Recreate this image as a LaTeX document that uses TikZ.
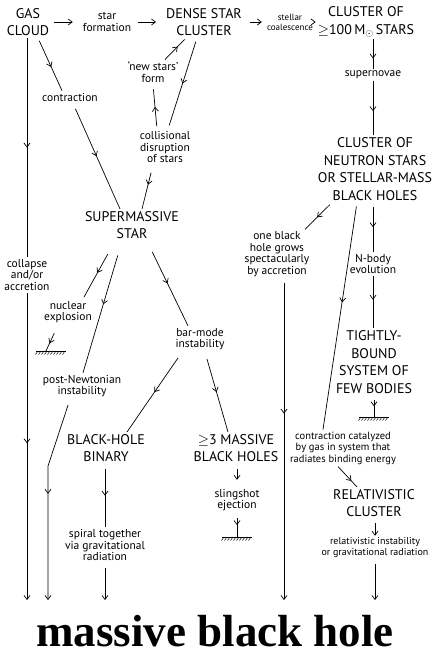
\documentclass[tikz,border=0pt]{standalone}
\usepackage{fontspec}
\setmainfont{PT Sans}
\newfontfamily\titlefont{Liberation Serif}
\usetikzlibrary{arrows.meta, decorations.markings, calc}

\tikzset{
  stage/.style={align=center, inner sep=2pt, font=\fontsize{14}{17.5}\selectfont},
  proc/.style={align=center, inner sep=2pt, font=\fontsize{11.5}{11.5}\selectfont},
  smallproc/.style={align=center, inner sep=1pt, font=\fontsize{9}{10}\selectfont},
  flow/.style={line width=0.7pt},
  tip/.style={-{Straight Barb[length=4pt,width=6pt]}},
  midarrow/.style={postaction={decorate}, decoration={markings,
      mark=at position #1 with {\arrow{Straight Barb[length=4pt,width=6pt]}}}},
  midarrow/.default=0.5,
  groundmark/.pic={
    \draw[line width=0.6pt] (-15,0) -- (15,0);
    \foreach \k in {-13,-10,...,14} \draw[line width=0.5pt] (\k,0) -- ++(-2.5,3.5);
  }
}

\begin{document}
\begin{tikzpicture}[x=1pt, y=-1pt]
  \useasboundingbox (0,0) rectangle (433,662);
  % Stages
  \node[stage] (gas) at (28,22) {GAS\\CLOUD};
  \node[stage] (dense) at (204,22) {DENSE STAR\\CLUSTER};
  \node[stage] (hundred) at (366,22) {CLUSTER OF\\$\geq$100\,M$_{\odot}$\,STARS};
  \node[stage] (nscluster) at (375,169) {CLUSTER OF\\NEUTRON STARS\\OR STELLAR-MASS\\BLACK HOLES};
  \node[stage] (sms) at (132,225) {SUPERMASSIVE\\STAR};
  \node[stage] (tight) at (374,362) {TIGHTLY-\\BOUND\\SYSTEM OF\\FEW BODIES};
  \node[stage] (binary) at (106,448) {BLACK-HOLE\\BINARY};
  \node[stage] (three) at (236,448) {$\geq$3 MASSIVE\\BLACK HOLES};
  \node[stage] (relcl) at (374,503) {RELATIVISTIC\\CLUSTER};
  % Processes
  \node[proc] (form) at (107,22) {star\\formation};
  \node[smallproc] (coal) at (290,22) {stellar\\coalescence};
  \node[proc] (supern) at (373,75) {supernovae};
  \node[proc] (contr) at (70,97) {contraction};
  \node[proc] (newst) at (153,72) {‘new stars’\\form};
  \node[proc] (coll) at (165,147) {collisional\\disruption\\of stars};
  \node[proc] (collapse) at (27,275) {collapse\\and/or\\accretion};
  \node[proc] (nucl) at (68,312) {nuclear\\explosion};
  \node[proc] (postn) at (82,386) {post-Newtonian\\instability};
  \node[proc] (bar) at (200,339) {bar-mode\\instability};
  \node[proc] (grow) at (277,254) {one black\\hole grows\\spectacularly\\by accretion};
  \node[proc] (nbody) at (373,264) {N-body\\evolution};
  \node[proc, font=\fontsize{10.5}{11.5}\selectfont] (catal) at (343,448) {contraction catalyzed\\by gas in system that\\radiates binding energy};
  \node[proc] (spiral) at (105,545) {spiral together\\via gravitational\\radiation};
  \node[proc] (sling) at (237,500) {slingshot\\ejection};
  \node[proc, font=\fontsize{10}{11}\selectfont] (relinst) at (375,548) {relativistic instability\\or gravitational radiation};
  % Outcome
  \node[inner sep=0pt, font=\titlefont\bfseries\fontsize{45}{45}\selectfont] (title) at (215,631) {massive black hole};
  \coordinate (base) at (0,600);
  \coordinate (kink) at (48,466);
  \coordinate (growfoot) at ([xshift=7pt]grow.south);
  \coordinate (g1) at (51,351);
  \coordinate (g2) at (237,537);
  \coordinate (g3) at (374,417);
  \foreach \g in {g1,g2,g3}
    \pic at (\g) {groundmark};
  % Top row
  \draw[flow, tip, shorten <=3pt, shorten >=8pt] (gas) -- (form);
  \draw[flow, tip, shorten <=5pt, shorten >=8pt] (form) -- (dense);
  \draw[flow, tip, shorten <=6pt, shorten >=4pt] (dense) -- (coal);
  \draw[flow, tip] (coal) -- (hundred);
  \draw[flow, midarrow=0.65] (supern.north |- hundred.south) -- (supern.north);
  \draw[flow, midarrow=0.55] (supern.south) -- (supern.south |- nscluster.north);
  % Gas cloud branch
  \draw[flow, midarrow=0.55, shorten <=3pt] ([xshift=10pt]gas.south) -- ([xshift=-8pt]contr.north);
  \draw[flow, midarrow=0.5, shorten <=6pt] ([xshift=3pt]contr.south) -- ([xshift=-12pt]sms.north);
  \draw[flow, midarrow=0.5] (collapse.north |- gas.south) -- (collapse.north);
  \draw[flow, tip, midarrow=0.49] (collapse.south) -- (collapse.south |- base);
  % Dense cluster branch
  \draw[flow, midarrow=0.5, shorten <=4pt, shorten >=4pt] ([xshift=-7pt]dense.south) -- ([xshift=3pt]coll.north);
  \draw[flow, midarrow=0.5, shorten <=3pt, shorten >=5pt] ([xshift=-8pt]coll.north) -- (newst.south);
  \draw[flow, midarrow=0.6, shorten >=2pt] ([xshift=12pt]newst.north) -- ([xshift=-18pt]dense.south);
  \draw[flow, midarrow=0.45, shorten <=8pt] ([xshift=-12pt]coll.south) -- ([xshift=10pt]sms.north);
  % Supermassive star branch
  \draw[flow, midarrow=0.55, shorten <=15pt, shorten >=2pt] ([xshift=-17pt]sms.south) -- ([xshift=15pt]nucl.north);
  \draw[flow, midarrow=0.7, shorten <=9pt] ([xshift=-10pt]nucl.south) -- ([xshift=-5pt]g1);
  \draw[flow, midarrow=0.48, shorten <=15pt] ([xshift=-10pt]sms.south) -- ([xshift=1pt]postn.north);
  \draw[flow, tip, midarrow=0.48, shorten <=6pt] ([xshift=-12pt]postn.south) -- (kink) -- (kink |- base);
  \draw[flow, midarrow=0.5, shorten <=12pt] ([xshift=15pt]sms.south) -- ([xshift=-12pt]bar.north);
  \draw[flow, midarrow=0.5, shorten <=7pt] ([xshift=-18pt]bar.south) -- ([xshift=21pt]binary.north);
  \draw[flow, midarrow=0.5, shorten <=7pt] ([xshift=5pt]bar.south) -- ([xshift=-8pt]three.north);
  \draw[flow, midarrow=0.5, shorten <=5pt] (spiral.north |- binary.south) -- (spiral.north);
  \draw[flow, tip, shorten <=5pt] (spiral.south) -- (spiral.south |- base);
  \draw[flow, tip, shorten <=5pt, shorten >=7pt] (sling.north |- three.south) -- (sling.north);
  \draw[flow, midarrow=0.5, shorten <=5pt] (sling.south) -- (g2);
  % Neutron star cluster branch
  \draw[flow, midarrow=0.55, shorten <=3pt] ([xshift=-43pt]nscluster.south) -- ([xshift=28pt]grow.north);
  \draw[flow, tip, midarrow=0.42, shorten <=4pt] (growfoot) -- (growfoot |- base);
  \draw[flow, midarrow=0.5, shorten <=4pt] (nbody.north |- nscluster.south) -- (nbody.north);
  \draw[flow, midarrow=0.45] (nbody.south) -- (nbody.south |- tight.north);
  \draw[flow, midarrow=0.44, shorten <=4pt] ([xshift=-18pt]nscluster.south) -- ([xshift=-20pt]catal.north);
  \draw[flow, midarrow=0.5, shorten <=4pt] (g3 |- tight.south) -- (g3);
  \draw[flow, midarrow=0.7] ([xshift=-5pt]catal.south) -- ([xshift=-17pt]relcl.north);
  \draw[flow, tip, shorten <=4pt] (relinst.north |- relcl.south) -- (relinst.north);
  \draw[flow, tip, shorten <=4pt] (relinst.south) -- (relinst.south |- base);
\end{tikzpicture}
\end{document}
